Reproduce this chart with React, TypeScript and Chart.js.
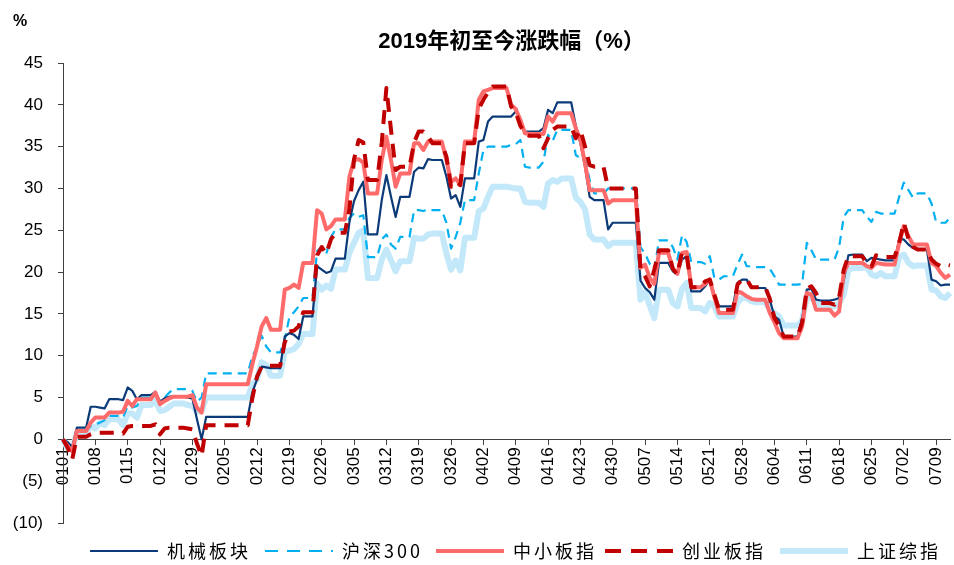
import React, { useEffect, useRef } from 'react';
import Chart from 'chart.js/auto';

// one value per calendar day, 2019-01-01 .. 2019-07-12 (non-trading days keep the last close)
const dayLabels: string[] = [];
for (let i = 0; i < 193; i++) {
  const d = new Date(2019, 0, 1 + i);
  dayLabels.push(String(d.getMonth() + 1).padStart(2, '0') + String(d.getDate()).padStart(2, '0'));
}

const TITLE = '2019年初至今涨跌幅（%）';
const seriesNames = ['机械板块', '沪深300', '中小板指', '创业板指', '上证综指'];
const yMin = -10;
const yMax = 45;
const yStep = 5;

// each row = one week, Tue..Mon
const jixie = [
  0, -0.3, -0.9, 1.4, 1.4, 1.4, 3.9,
  3.9, 3.8, 3.7, 4.8, 4.8, 4.8, 4.7,
  6.2, 5.8, 4.8, 5.3, 5.3, 5.3, 5.7,
  4.5, 4.9, 5.1, 5.1, 5.1, 5.1, 5.0,
  4.9, 2.4, 0.0, 2.7, 2.7, 2.7, 2.7,
  2.7, 2.7, 2.7, 2.7, 2.7, 2.7, 5.6,
  7.2, 8.7, 8.6, 8.5, 8.5, 8.5, 12.3,
  12.7, 12.5, 12.0, 14.7, 14.7, 14.7, 20.7,
  20.3, 19.9, 20.1, 21.6, 21.6, 21.6, 26.0,
  28.5, 29.8, 30.8, 24.5, 24.5, 24.5, 28.6,
  31.6, 29.0, 26.6, 29.0, 29.0, 29.0, 32.0,
  32.5, 32.4, 33.5, 33.4, 33.4, 33.4, 31.4,
  28.8, 29.2, 27.8, 31.2, 31.2, 31.2, 35.6,
  35.8, 38.0, 38.6, 38.6, 38.6, 38.6, 38.6,
  39.2, 38.2, 36.8, 36.8, 36.8, 36.8, 37.2,
  39.4, 39.0, 40.3, 40.3, 40.3, 40.3, 37.5,
  35.4, 32.6, 29.0, 28.6, 28.6, 28.6, 25.1,
  25.9, 25.9, 25.9, 25.9, 25.9, 25.9, 19.0,
  18.1, 17.6, 16.7, 21.1, 21.1, 21.1, 20.1,
  19.7, 21.5, 21.9, 17.7, 17.7, 17.7, 18.3,
  19.1, 17.3, 15.9, 15.9, 15.9, 15.9, 18.7,
  19.1, 19.1, 18.1, 18.1, 18.1, 18.1, 16.7,
  14.7, 14.3, 12.3, 12.3, 12.3, 12.3, 14.5,
  17.9, 18.0, 16.7, 16.6, 16.6, 16.6, 16.7,
  16.9, 19.0, 22.0, 22.1, 22.1, 22.1, 21.3,
  21.7, 21.6, 21.5, 21.4, 21.4, 21.4, 23.9,
  23.9, 23.3, 22.9, 22.7, 22.7, 22.7, 19.1,
  18.9, 18.4, 18.5, 18.5,
];

const hs300 = [
  0, -1.0, -1.5, 1.0, 1.0, 1.0, 1.6,
  1.8, 2.0, 2.3, 2.8, 2.8, 2.8, 2.6,
  4.0, 3.8, 4.0, 5.0, 5.0, 5.0, 5.4,
  4.6, 5.0, 5.6, 6.0, 6.0, 6.0, 6.0,
  5.8, 4.5, 5.0, 7.9, 7.9, 7.9, 7.9,
  7.9, 7.9, 7.9, 7.9, 7.9, 7.9, 10.0,
  11.0, 12.4, 11.1, 10.4, 10.4, 10.4, 11.9,
  14.6, 15.2, 15.9, 16.9, 16.9, 16.9, 22.5,
  23.0, 22.2, 24.2, 25.1, 25.1, 25.1, 26.5,
  27.0, 26.6, 26.8, 21.8, 21.8, 21.8, 23.9,
  24.5, 23.3, 22.8, 24.2, 24.2, 24.2, 27.4,
  27.4, 27.3, 27.5, 27.4, 27.4, 27.4, 25.9,
  22.8, 24.2, 25.9, 28.6, 28.6, 28.6, 31.8,
  34.6, 35.0, 35.0, 35.0, 35.0, 35.0, 35.2,
  35.3, 35.8, 32.6, 32.5, 32.5, 32.5, 33.2,
  36.4, 35.7, 37.0, 37.0, 37.0, 37.0, 34.0,
  33.6, 33.5, 31.0, 29.4, 29.4, 29.4, 30.0,
  30.0, 30.0, 30.0, 30.0, 30.0, 30.0, 23.0,
  22.2, 21.0, 20.3, 23.8, 23.8, 23.8, 23.0,
  21.5, 24.4, 23.6, 21.2, 21.2, 21.2, 21.0,
  21.9, 19.3, 19.1, 19.5, 19.5, 19.5, 20.9,
  22.1, 20.7, 20.7, 20.6, 20.6, 20.6, 20.4,
  19.5, 18.5, 18.5, 18.5, 18.5, 18.5, 18.6,
  23.5, 22.6, 21.5, 21.5, 21.5, 21.5, 21.5,
  23.0, 26.6, 27.4, 27.4, 27.4, 27.4, 26.6,
  26.0, 27.2, 27.0, 27.0, 27.0, 27.0, 29.0,
  30.7, 29.8, 28.9, 29.4, 29.4, 29.4, 28.2,
  26.0, 25.9, 25.9, 26.5,
];

const zxb = [
  0, -0.8, -1.4, 1.0, 1.0, 1.0, 2.0,
  2.6, 2.6, 2.6, 3.2, 3.2, 3.2, 3.3,
  4.6, 4.0, 4.8, 4.8, 4.8, 4.8, 5.6,
  4.2, 4.6, 4.9, 5.1, 5.1, 5.1, 5.1,
  5.3, 3.8, 3.2, 6.6, 6.6, 6.6, 6.6,
  6.6, 6.6, 6.6, 6.6, 6.6, 6.6, 9.0,
  11.1, 13.5, 14.5, 13.1, 13.1, 13.1, 17.9,
  18.1, 18.5, 18.1, 21.1, 21.1, 21.1, 27.4,
  27.0, 25.1, 25.5, 26.3, 26.3, 26.3, 31.4,
  33.4, 33.5, 33.1, 29.4, 29.4, 29.4, 33.4,
  36.2, 33.4, 30.2, 31.8, 31.8, 31.8, 35.4,
  35.4, 34.6, 35.6, 35.6, 35.6, 35.6, 33.4,
  30.8, 31.2, 30.4, 35.6, 35.6, 35.6, 40.6,
  41.6, 41.8, 42.0, 42.0, 42.0, 42.0, 40.0,
  39.5, 38.2, 36.6, 36.5, 36.5, 36.5, 36.5,
  38.6, 38.0, 39.0, 39.0, 39.0, 39.0, 37.2,
  35.8, 33.0, 29.8, 29.8, 29.8, 29.8, 28.2,
  28.6, 28.6, 28.6, 28.6, 28.6, 28.6, 20.5,
  20.9, 19.3, 18.6, 22.3, 22.3, 22.3, 20.4,
  19.8, 22.3, 22.4, 18.2, 18.2, 18.2, 18.6,
  19.1, 17.0, 15.1, 15.1, 15.1, 15.1, 17.7,
  17.5, 17.1, 16.8, 16.7, 16.7, 16.7, 15.1,
  14.0, 12.7, 12.1, 12.1, 12.1, 12.1, 13.5,
  17.5, 17.3, 15.5, 15.5, 15.5, 15.5, 14.8,
  15.3, 19.9, 21.1, 21.1, 21.1, 21.1, 20.7,
  20.5, 21.1, 21.0, 20.9, 20.9, 20.9, 23.5,
  25.5, 24.3, 23.3, 23.3, 23.3, 23.3, 21.1,
  20.7, 19.9, 19.3, 19.7,
];

const cyb = [
  0, -1.0, -2.4, 0.3, 0.3, 0.3, 0.6,
  0.8, 0.8, 0.8, 0.8, 0.8, 0.8, 0.7,
  1.5, 1.6, 1.6, 1.6, 1.6, 1.6, 1.8,
  0.6, 1.3, 1.4, 1.4, 1.4, 1.4, 1.3,
  1.2, -0.5, -2.0, 1.7, 1.7, 1.7, 1.7,
  1.7, 1.7, 1.7, 1.7, 1.7, 1.7, 5.0,
  7.5, 8.7, 8.8, 8.8, 8.8, 8.8, 11.6,
  12.9, 13.0, 13.5, 15.2, 15.2, 15.2, 22.0,
  23.0, 22.2, 23.9, 24.7, 24.7, 24.7, 27.5,
  33.5, 35.8, 35.5, 31.0, 31.0, 31.0, 35.5,
  42.0, 37.0, 32.2, 32.6, 32.6, 32.6, 35.5,
  36.8, 36.8, 36.2, 35.4, 35.4, 35.4, 33.8,
  30.2, 30.8, 30.4, 35.4, 35.4, 35.4, 39.5,
  40.6, 41.5, 42.2, 42.2, 42.2, 42.2, 39.8,
  39.1, 37.5, 36.5, 36.3, 36.3, 36.3, 34.8,
  36.0, 37.0, 37.4, 37.4, 37.4, 37.4, 36.0,
  37.0, 35.0, 32.8, 32.6, 32.6, 32.6, 30.0,
  30.0, 30.0, 30.0, 30.0, 30.0, 30.0, 20.3,
  19.5, 18.3, 20.3, 22.6, 22.6, 22.6, 20.4,
  19.7, 22.5, 22.0, 18.2, 18.2, 18.2, 18.9,
  19.1, 17.3, 15.5, 15.5, 15.5, 15.5, 18.5,
  19.1, 19.1, 18.2, 18.2, 18.2, 18.2, 16.8,
  14.5, 13.6, 12.3, 12.3, 12.3, 12.3, 14.0,
  18.0, 18.3, 17.5, 16.3, 16.3, 16.3, 16.1,
  17.0, 20.3, 21.9, 21.9, 21.9, 21.9, 21.0,
  20.7, 22.0, 21.8, 21.8, 21.8, 21.8, 23.5,
  25.9, 24.0, 23.0, 22.7, 22.7, 22.7, 21.5,
  21.0, 20.7, 20.9, 20.8,
];

const szzz = [
  0, -1.1, -1.2, 0.8, 0.8, 0.8, 1.6,
  1.3, 2.0, 1.7, 2.4, 2.4, 2.4, 1.7,
  3.1, 3.1, 2.6, 4.1, 4.1, 4.1, 4.7,
  3.4, 3.5, 3.9, 4.3, 4.3, 4.3, 4.1,
  4.0, 3.3, 3.4, 5.0, 5.0, 5.0, 5.0,
  5.0, 5.0, 5.0, 5.0, 5.0, 5.0, 6.6,
  7.2, 9.2, 8.9, 7.6, 7.6, 7.6, 10.5,
  10.6, 10.8, 11.4, 12.6, 12.6, 12.6, 18.6,
  17.9, 18.4, 18.0, 20.3, 20.3, 20.3, 22.3,
  23.5, 24.7, 25.0, 19.3, 19.3, 19.3, 21.5,
  22.7, 21.4, 20.1, 21.3, 21.3, 21.3, 24.1,
  24.0, 24.0, 24.5, 24.6, 24.6, 24.6, 22.2,
  20.3, 21.4, 20.2, 24.1, 24.1, 24.1, 27.3,
  27.6, 29.0, 30.2, 30.2, 30.2, 30.2, 30.1,
  30.0, 30.0, 28.4, 28.3, 28.3, 28.3, 27.8,
  30.6, 31.0, 30.8, 31.2, 31.2, 31.2, 28.9,
  28.4, 27.5, 24.5, 23.9, 23.9, 23.9, 23.1,
  23.5, 23.5, 23.5, 23.5, 23.5, 23.5, 16.7,
  17.6, 16.0, 14.5, 17.9, 17.9, 17.9, 16.3,
  15.9, 18.0, 18.7, 15.7, 15.7, 15.7, 15.3,
  16.3, 15.9, 14.7, 14.7, 14.7, 14.7, 16.3,
  16.9, 16.9, 16.5, 16.4, 16.4, 16.4, 15.5,
  15.1, 14.7, 13.6, 13.6, 13.6, 13.6, 14.2,
  17.1, 16.9, 16.4, 15.9, 15.9, 15.9, 15.9,
  16.3, 17.3, 20.3, 20.5, 20.5, 20.5, 20.6,
  19.7, 19.5, 19.9, 19.5, 19.5, 19.5, 21.8,
  22.1, 21.1, 20.7, 20.8, 20.8, 20.8, 17.9,
  17.8, 17.1, 16.9, 17.5,
];

// legend: where each sample line starts, and the dash used in the legend sample
const legendX = [90, 265, 436, 605, 780];
const legendDash: number[][] = [[], [13, 9], [], [16, 10], []];

const headerPlugin = {
  id: 'header',
  afterDraw(chart: any) {
    const { ctx, chartArea } = chart;
    ctx.save();
    ctx.fillStyle = '#000';
    ctx.textBaseline = 'middle';
    ctx.font = 'bold 22px "Liberation Sans", "Noto Sans CJK SC", sans-serif';
    ctx.textAlign = 'center';
    ctx.fillText(TITLE, (chartArea.left + chartArea.right) / 2 + 5, 42);
    ctx.font = 'bold 16px "Liberation Sans", sans-serif';
    ctx.textAlign = 'left';
    ctx.fillText('%', 13, 22);
    ctx.restore();
  },
};

const legendPlugin = {
  id: 'bottomLegend',
  afterDraw(chart: any) {
    const { ctx } = chart;
    const y = 551;
    chart.data.datasets.forEach((ds: any, i: number) => {
      const x = legendX[i];
      ctx.save();
      ctx.strokeStyle = ds.borderColor;
      ctx.lineWidth = ds.borderWidth;
      ctx.setLineDash(legendDash[i]);
      ctx.beginPath();
      ctx.moveTo(x, y);
      ctx.lineTo(x + 68, y);
      ctx.stroke();
      ctx.setLineDash([]);
      ctx.fillStyle = '#000';
      ctx.font = '18px "Noto Sans CJK SC", sans-serif';
      ctx.textAlign = 'left';
      ctx.textBaseline = 'middle';
      ctx.letterSpacing = '3px';
      ctx.fillText(ds.label, x + 77, y);
      ctx.restore();
    });
  },
};

const App = () => {
  const chartRef = useRef<HTMLCanvasElement>(null);
  const chartInstance = useRef<Chart | null>(null);

  useEffect(() => {
    if (!chartRef.current) return;
    if (chartInstance.current) chartInstance.current.destroy();

    const axisColor = '#404040';
    const tickFont = { family: '"Liberation Sans", Arial, sans-serif', size: 17 };

    chartInstance.current = new Chart(chartRef.current, {
      type: 'line',
      data: {
        labels: dayLabels,
        datasets: [
          {
            label: seriesNames[0],
            data: jixie,
            borderColor: '#0B3A78',
            backgroundColor: '#0B3A78',
            borderWidth: 2.2,
            order: 2,
          },
          {
            label: seriesNames[1],
            data: hs300,
            borderColor: '#00B0F0',
            backgroundColor: '#00B0F0',
            borderWidth: 2.2,
            borderDash: [9, 6],
            order: 3,
          },
          {
            label: seriesNames[2],
            data: zxb,
            borderColor: '#FF6B6B',
            backgroundColor: '#FF6B6B',
            borderWidth: 4,
            order: 1,
          },
          {
            label: seriesNames[3],
            data: cyb,
            borderColor: '#C00000',
            backgroundColor: '#C00000',
            borderWidth: 4,
            borderDash: [14, 9],
            order: 0,
          },
          {
            label: seriesNames[4],
            data: szzz,
            borderColor: '#C2E8F9',
            backgroundColor: '#C2E8F9',
            borderWidth: 6,
            order: 4,
          },
        ],
      },
      options: {
        responsive: true,
        maintainAspectRatio: false,
        animation: false,
        layout: { padding: { top: 63, left: 8, right: 4, bottom: 42 } },
        elements: {
          point: { radius: 0, hoverRadius: 0 },
          line: { tension: 0, borderJoinStyle: 'round' },
        },
        plugins: {
          title: { display: false },
          tooltip: { enabled: false },
          legend: { display: false },
        },
        scales: {
          x: {
            type: 'category',
            position: { y: 0 },
            offset: false,
            afterFit: (scale: any) => {
              scale.paddingLeft = 0;
              scale.paddingRight = 0;
            },
            grid: {
              display: true,
              drawOnChartArea: false,
              drawTicks: true,
              tickLength: 5,
              tickColor: (ctx: any) => (ctx.index % 7 === 0 ? axisColor : 'rgba(0,0,0,0)'),
            },
            border: { display: true, color: axisColor, width: 1 },
            ticks: {
              autoSkip: false,
              minRotation: 90,
              maxRotation: 90,
              padding: 3,
              color: '#000',
              font: tickFont,
              callback: (_v: any, i: number) => (i % 7 === 0 ? dayLabels[i] : ''),
            },
          },
          y: {
            min: yMin,
            max: yMax,
            afterFit: (scale: any) => {
              scale.width = 55;
            },
            grid: {
              display: true,
              drawOnChartArea: false,
              drawTicks: true,
              tickLength: 5,
              tickColor: axisColor,
            },
            border: { display: true, color: axisColor, width: 1 },
            ticks: {
              stepSize: yStep,
              padding: 15,
              color: '#000',
              font: tickFont,
              callback: (v: any) => (Number(v) < 0 ? `(${-Number(v)})` : `${v}`),
            },
          },
        },
      },
      plugins: [headerPlugin, legendPlugin],
    });

    return () => {
      if (chartInstance.current) {
        chartInstance.current.destroy();
        chartInstance.current = null;
      }
    };
  }, []);

  return (
    <div style={{ position: 'fixed', left: 0, top: 0, width: 954, height: 565, background: '#fff' }}>
      <canvas ref={chartRef}></canvas>
    </div>
  );
};

export default App;
